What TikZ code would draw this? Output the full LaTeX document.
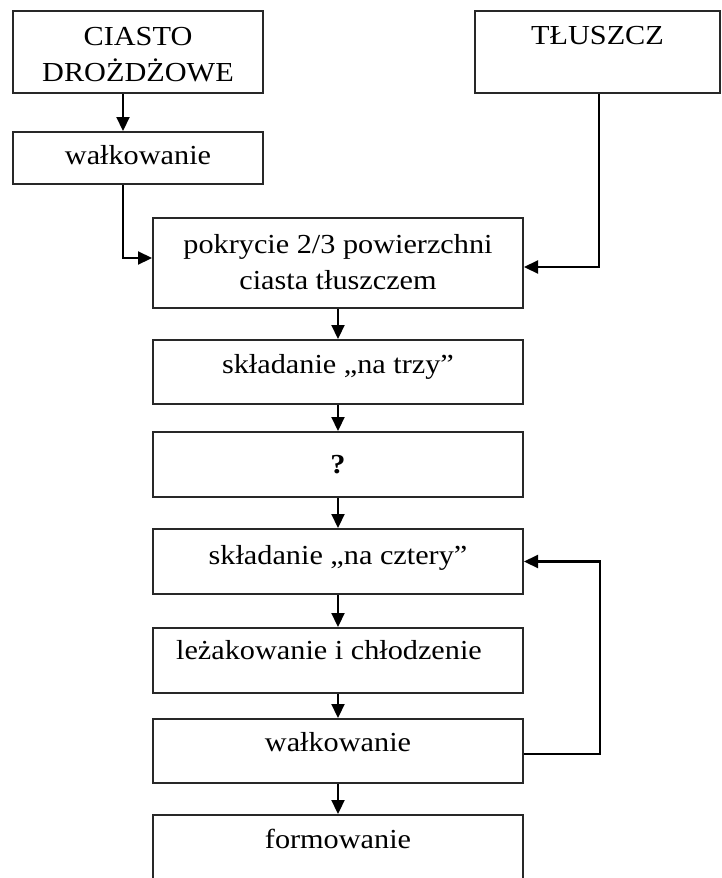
\documentclass[tikz,border=0pt]{standalone}
\usepackage{fontspec}
\setmainfont[FakeStretch=1.1]{Liberation Serif}
\usetikzlibrary{arrows.meta}
\definecolor{BoxLine}{RGB}{40,40,40}
\tikzstyle{BoxStep}=[draw=BoxLine,line width=2pt,anchor=north,inner xsep=2pt,inner ysep=0pt,
align=center,font={\fontsize{27.5}{36}\selectfont}]
\tikzstyle{EdgeFlow}=[black,line width=2.2pt,-{Triangle[length=14pt,width=13pt]}]

\begin{document}
\begin{tikzpicture}[x=1pt,y=-1pt]
        \useasboundingbox(0,0)rectangle(722,878);
        \node[BoxStep,minimum width=250pt,text height=70pt,text depth=12pt](ciasto)at(138,10){CIASTO\\DROŻDŻOWE};
        \node[BoxStep,minimum width=245pt,text height=33pt,text depth=49pt](tluszcz)at(597.5,10){TŁUSZCZ};
        \node[BoxStep,minimum width=250pt,text height=32pt,text depth=20pt](walk1)at(138,131){wałkowanie};
        \node[BoxStep,minimum width=370pt,text height=71pt,text depth=19pt](pokrycie)at(338,217){pokrycie 2/3 powierzchni\\ciasta tłuszczem};
        \node[BoxStep,minimum width=370pt,text height=33pt,text depth=31pt](trzy)at(338,339){składanie „na trzy”};
        \node[BoxStep,minimum width=370pt,text height=41pt,text depth=24pt](pytanie)at(338,431){\textbf{?}};
        \node[BoxStep,minimum width=370pt,text height=35pt,text depth=30pt](cztery)at(338,528){składanie „na cztery”};
        \node[BoxStep,minimum width=370pt,text height=31pt,text depth=34pt](lezak)at(338,627){leżakowanie i chłodzenie\hspace*{18pt}};
        \node[BoxStep,minimum width=370pt,text height=32pt,text depth=32pt](walk2)at(338,718){wałkowanie};
        \node[BoxStep,minimum width=370pt,text height=33pt,text depth=36pt](formowanie)at(338,814){formowanie};
        \draw[EdgeFlow]([xshift=-15pt]ciasto.south)--([xshift=-15pt]walk1.north);
        \draw[EdgeFlow]([xshift=-15pt]walk1.south)|-([yshift=5pt]pokrycie.west);
        \draw[EdgeFlow]([xshift=1.5pt]tluszcz.south)|-([yshift=-4pt]pokrycie.east);
        \draw[EdgeFlow](pokrycie)--(trzy);
        \draw[EdgeFlow](trzy)--(pytanie);
        \draw[EdgeFlow](pytanie)--(cztery);
        \draw[EdgeFlow](cztery)--(lezak);
        \draw[EdgeFlow](lezak)--(walk2);
        \draw[EdgeFlow](walk2)--(formowanie);
        \draw[EdgeFlow]([yshift=-3pt]walk2.east)--++(76,0)|-(cztery.east);
    \end{tikzpicture}
\end{document}
